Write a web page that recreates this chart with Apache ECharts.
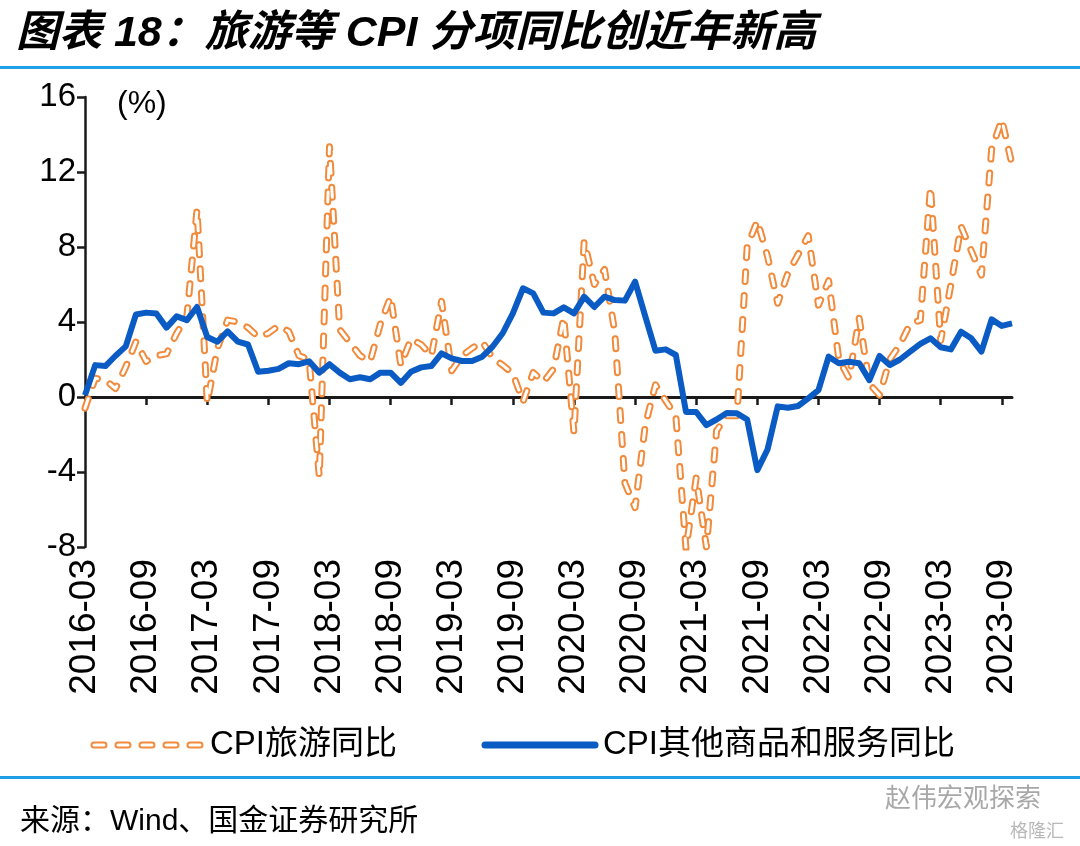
<!DOCTYPE html>
<html>
<head>
<meta charset="utf-8">
<script src="https://cdn.jsdelivr.net/npm/echarts@6/dist/echarts.min.js"></script>
<style>
html,body{margin:0;padding:0;background:#fff;}
#c{width:1080px;height:846px;}
</style>
</head>
<body>
<div id="c"></div>
<script>
const months = [
'2016-03','2016-04','2016-05','2016-06','2016-07','2016-08','2016-09','2016-10','2016-11','2016-12',
'2017-01','2017-02','2017-03','2017-04','2017-05','2017-06','2017-07','2017-08','2017-09','2017-10','2017-11','2017-12',
'2018-01','2018-02','2018-03','2018-04','2018-05','2018-06','2018-07','2018-08','2018-09','2018-10','2018-11','2018-12',
'2019-01','2019-02','2019-03','2019-04','2019-05','2019-06','2019-07','2019-08','2019-09','2019-10','2019-11','2019-12',
'2020-01','2020-02','2020-03','2020-04','2020-05','2020-06','2020-07','2020-08','2020-09','2020-10','2020-11','2020-12',
'2021-01','2021-02','2021-03','2021-04','2021-05','2021-06','2021-07','2021-08','2021-09','2021-10','2021-11','2021-12',
'2022-01','2022-02','2022-03','2022-04','2022-05','2022-06','2022-07','2022-08','2022-09','2022-10','2022-11','2022-12',
'2023-01','2023-02','2023-03','2023-04','2023-05','2023-06','2023-07','2023-08','2023-09','2023-10'
];

// CPI旅游同比 (%)
const tourism = [
-0.6, 1.0, 0.9, 0.45, 1.6, 2.95, 1.9, 2.2, 2.3, 3.4,
4.3, 10.0, -0.3, 2.6, 4.1, 4.0, 3.7, 3.2, 3.4, 3.8, 3.5, 2.2,
2.0, -4.25, 13.35, 3.6, 2.9, 2.2, 1.9, 3.9, 5.35, 1.7, 3.1, 2.8,
2.2, 5.1, 1.4, 2.2, 2.6, 2.95, 2.1, 1.7, 1.25, -0.25, 1.3, 0.8,
1.5, 4.25, -1.9, 8.3, 6.0, 6.8, 3.5, -4.6, -5.9, -1.5, 0.65, -0.2,
-1.0, -8.1, -4.3, -8.0, -1.8, -1.0, -1.0, 8.0, 9.4, 7.5, 5.0, 6.6,
7.6, 8.6, 4.9, 6.2, 2.0, 1.0, 4.2, 0.7, 0.1, 2.0, 2.8, 3.9,
4.1, 11.2, 3.0, 6.0, 9.1, 7.8, 6.5, 13.2, 14.8, 12.4
];

// CPI其他商品和服务同比 (%)
const otherGoods = [
0.1, 1.7, 1.65, 2.2, 2.7, 4.4, 4.5, 4.45, 3.7, 4.3,
4.1, 4.8, 3.2, 2.95, 3.5, 2.95, 2.8, 1.35, 1.4, 1.5, 1.8, 1.75,
1.9, 1.3, 1.75, 1.3, 0.95, 1.05, 0.95, 1.3, 1.3, 0.75, 1.35, 1.58,
1.65, 2.33, 2.06, 1.92, 1.92, 2.15, 2.68, 3.4, 4.46, 5.8, 5.53, 4.5,
4.46, 4.78, 4.46, 5.35, 4.8, 5.35, 5.17, 5.14, 6.15, 4.3, 2.47, 2.54,
2.24, -0.8, -0.8, -1.5, -1.2, -0.85, -0.87, -1.2, -3.9, -2.8, -0.5, -0.57,
-0.48, -0.07, 0.37, 2.15, 1.8, 1.88, 1.8, 0.9, 2.19, 1.7, 2.0, 2.42,
2.83, 3.13, 2.65, 2.54, 3.48, 3.13, 2.42, 4.14, 3.79, 3.93
];

const seriesNames = ['CPI旅游同比', 'CPI其他商品和服务同比'];
const titleText = '图表 18：旅游等 CPI 分项同比创近年新高';
const sourceText = '来源：Wind、国金证券研究所';
const unitText = '(%)';

const ORANGE = '#F28A3C';
const BLUE = '#0A5CC4';
const RULE = '#1E9FE6';
const FONT = '"Liberation Sans", Arial, "Noto Sans CJK SC", sans-serif';
const DASH = [10, 14];

const chart = echarts.init(document.getElementById('c'), null, {renderer: 'canvas'});
chart.setOption({
  backgroundColor: '#fff',
  animation: false,
  title: {
    text: titleText,
    left: 11, top: 8,
    textStyle: {fontSize: 43, fontWeight: 'bold', fontStyle: 'italic', color: '#000',
      fontFamily: '"Liberation Sans", "Noto Sans CJK SC", sans-serif'}
  },
  grid: {left: 85, right: 68, top: 97, bottom: 299, containLabel: false},
  xAxis: [{
    type: 'category', data: months, boundaryGap: false,
    axisLine: {onZero: true, lineStyle: {color: '#1a1a1a', width: 3}},
    axisTick: {show: true, interval: 5, length: 8, lineStyle: {color: '#1a1a1a', width: 2.5}},
    axisLabel: {show: false},
    splitLine: {show: false}
  }, {
    type: 'category', data: months, boundaryGap: false, position: 'bottom',
    axisLine: {show: false, onZero: false},
    axisTick: {show: false},
    axisLabel: {show: true, interval: 5, rotate: 90, margin: 12, fontSize: 37,
      color: '#000', fontFamily: FONT},
    splitLine: {show: false}
  }],
  yAxis: {
    type: 'value', min: -8, max: 16, interval: 4,
    axisLine: {show: true, lineStyle: {color: '#1a1a1a', width: 2.5}},
    axisTick: {show: true, length: 8, lineStyle: {color: '#1a1a1a', width: 2.5}},
    axisLabel: {fontSize: 33, color: '#000', margin: 9, fontFamily: FONT},
    splitLine: {show: false}
  },
  series: [{
    name: seriesNames[0], type: 'line', data: tourism, xAxisIndex: 0,
    symbol: 'none', smooth: false, z: 2,
    lineStyle: {color: ORANGE, width: 7, type: DASH, cap: 'round', join: 'round'}
  }, {
    name: seriesNames[0] + ' inner', type: 'line', data: tourism, xAxisIndex: 0,
    symbol: 'none', smooth: false, z: 3, silent: true,
    lineStyle: {color: '#fff', width: 3, type: DASH, cap: 'round', join: 'round'}
  }, {
    name: seriesNames[1], type: 'line', data: otherGoods, xAxisIndex: 0,
    symbol: 'none', smooth: false, z: 4,
    lineStyle: {color: BLUE, width: 6, join: 'round'}
  }],
  graphic: [
    {type: 'rect', shape: {x: 0, y: 66, width: 1080, height: 3}, style: {fill: RULE}},
    {type: 'rect', shape: {x: 0, y: 776, width: 1080, height: 3}, style: {fill: RULE}},
    {type: 'text', left: 117, top: 88, style: {text: unitText, font: '32px ' + FONT, fill: '#000'}},
    {type: 'polyline', shape: {points: [[94, 745], [200, 745]]},
      style: {stroke: ORANGE, lineWidth: 7, lineDash: DASH, lineCap: 'round', fill: null}},
    {type: 'polyline', shape: {points: [[94, 745], [200, 745]]},
      style: {stroke: '#fff', lineWidth: 3, lineDash: DASH, lineCap: 'round', fill: null}},
    {type: 'text', x: 210, y: 745, style: {text: seriesNames[0], font: '33px ' + FONT, fill: '#000', verticalAlign: 'middle'}},
    {type: 'polyline', shape: {points: [[485, 745], [595, 745]]},
      style: {stroke: BLUE, lineWidth: 7, lineCap: 'round', fill: null}},
    {type: 'text', x: 603, y: 745, style: {text: seriesNames[1], font: '33px ' + FONT, fill: '#000', verticalAlign: 'middle'}},
    {type: 'text', x: 20, y: 822, style: {text: sourceText, font: '30px ' + FONT, fill: '#000', verticalAlign: 'middle'}},
    {type: 'text', x: 885, y: 797, style: {text: '赵伟宏观探索', font: '26px "Noto Sans CJK SC"', fill: '#a8a8a8', verticalAlign: 'middle'}},
    {type: 'text', x: 1010, y: 830, style: {text: '格隆汇', font: '18px "Noto Sans CJK SC"', fill: '#b8b8b8', verticalAlign: 'middle'}}
  ]
});
</script>
</body>
</html>
